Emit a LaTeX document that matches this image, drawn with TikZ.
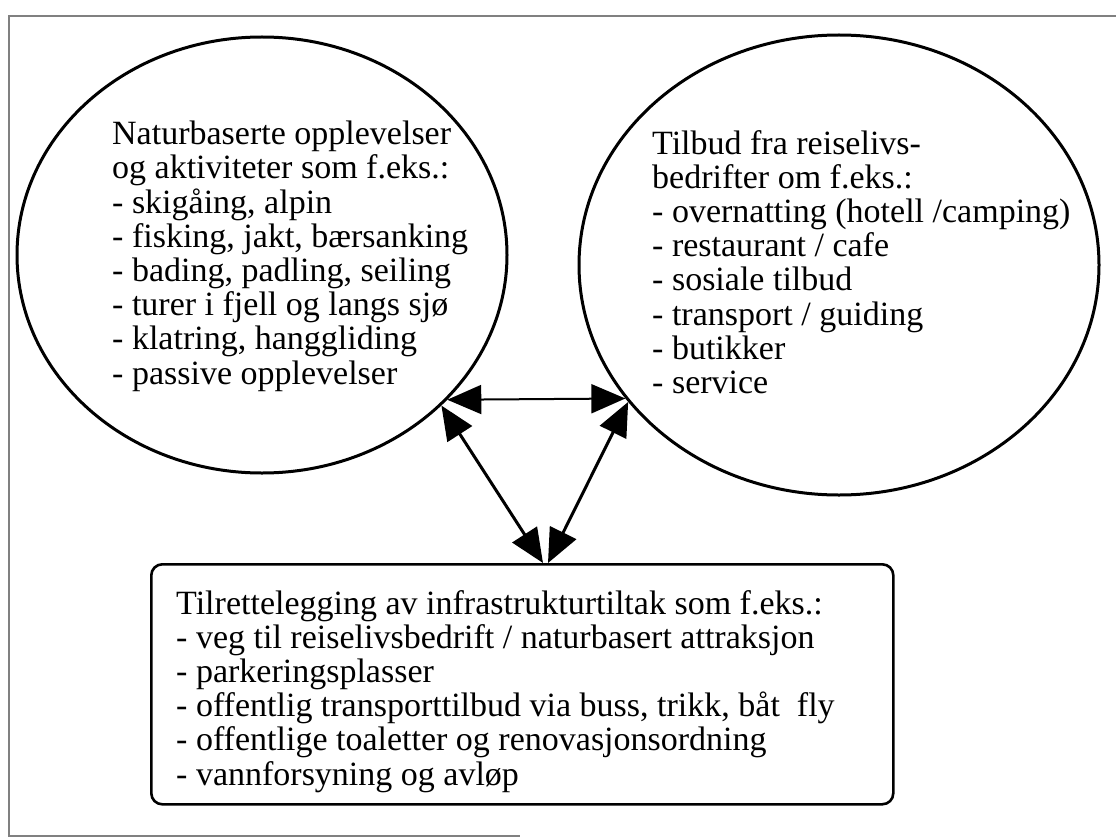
\documentclass[tikz,border=0pt]{standalone}
\usepackage{fontspec}
\setmainfont{Liberation Serif}
\usetikzlibrary{shapes.geometric,arrows.meta}

\begin{document}
\begin{tikzpicture}[x=1pt,y=-1pt,
    ring/.style={draw,ellipse,line width=3pt,inner sep=0pt},
    boks/.style={draw,rectangle,rounded corners=11pt,line width=2.6pt,inner sep=0pt,anchor=north west},
    tekst/.style={anchor=north west,align=left,inner sep=0pt,font=\fontsize{34}{34.2}\selectfont},
    pil/.style={{Triangle[length=34pt,width=29pt]}-{Triangle[length=34pt,width=29pt]}}]
  \useasboundingbox (0,0) rectangle (1116,840);
  % frame of the scanned page
  \draw[gray,line width=1.5pt] (1116,16) -- (9,16) -- (9,836) -- (520,836);
  % the three parts
  \node[ring,minimum width=490pt,minimum height=436pt] (natur) at (262,255) {};
  \node[ring,minimum width=520pt,minimum height=460pt] (tilbud) at (839,265) {};
  \node[boks,minimum width=742pt,minimum height=240pt] (infra) at (150,563) {};
  \node[tekst] (naturtxt) at (112,121) {Naturbaserte opplevelser\\
    og aktiviteter som f.eks.:\\
    - skigåing, alpin\\
    - fisking, jakt, bærsanking\\
    - bading, padling, seiling\\
    - turer i fjell og langs sjø\\
    - klatring, hanggliding\\
    - passive opplevelser};
  \node[tekst] (tilbudtxt) at (652,130) {Tilbud fra reiselivs-\\
    bedrifter om f.eks.:\\
    - overnatting (hotell /camping)\\
    - restaurant / cafe\\
    - sosiale tilbud\\
    - transport / guiding\\
    - butikker\\
    - service};
  \node[tekst] (infratxt) at (176,590) {Tilrettelegging av infrastrukturtiltak som f.eks.:\\
    - veg til reiselivsbedrift / naturbasert attraksjon\\
    - parkeringsplasser\\
    - offentlig transporttilbud via buss, trikk, båt\ \ fly\\
    - offentlige toaletter og renovasjonsordning\\
    - vannforsyning og avløp};
  % arrows between them
  \draw[pil,line width=2pt] (natur.-38) -- (tilbud.-148);
  \draw[pil,line width=3pt] (natur.-40) -- ([xshift=393pt]infra.north west);
  \draw[pil,line width=3pt] (tilbud.-147) -- ([xshift=398pt]infra.north west);
\end{tikzpicture}
\end{document}
